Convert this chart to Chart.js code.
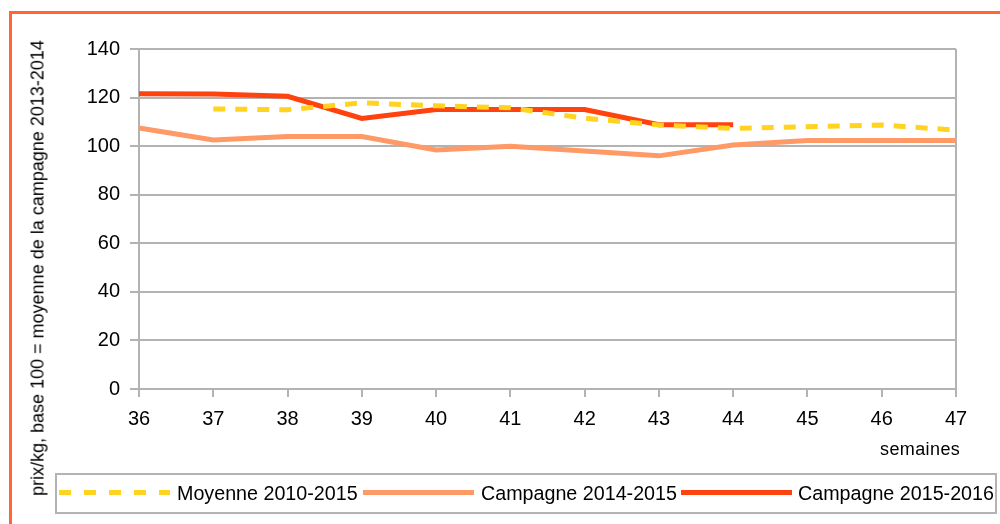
<!DOCTYPE html>
<html>
<head>
<meta charset="utf-8">
<script src="https://cdn.jsdelivr.net/npm/chart.js@4.4.1/dist/chart.umd.min.js"></script>
<style>
  html, body { margin:0; padding:0; background:#fff; }
  #wrap { position:relative; width:1000px; height:524px; overflow:hidden; font-family:"Liberation Sans", Arial, sans-serif; }
  #frame { position:absolute; left:9px; top:11px; width:1000px; height:600px; border:3px solid #FF6633; box-sizing:border-box; }
  canvas { position:absolute; left:0; top:0; }
  #ytitle { position:absolute; left:38px; top:268px; transform:translate(-50%,-50%) rotate(-90deg); white-space:nowrap; font-size:18px; color:#000; }
  #xtitle { position:absolute; left:880px; top:439px; font-size:18px; color:#000; letter-spacing:0.4px; }
  #legend { position:absolute; left:55px; top:473px; width:942px; height:41px; border:2px solid #b3b3b3; box-sizing:border-box; }
  .sw { position:absolute; top:15px; width:111px; height:5px; }
  .lt { position:absolute; top:7px; font-size:19.7px; white-space:nowrap; color:#000; }
</style>
</head>
<body>
<div id="wrap">
  <div id="frame"></div>
  <canvas id="c" width="1000" height="524"></canvas>
  <div id="ytitle">prix/kg, base 100 = moyenne de la campagne 2013-2014</div>
  <div id="xtitle">semaines</div>
  <div id="legend"></div>
</div>
<script>
const weeks = ['36','37','38','39','40','41','42','43','44','45','46','47'];
const seriesNames = ['Moyenne 2010-2015', 'Campagne 2014-2015', 'Campagne 2015-2016'];
const moyenne2010_2015 = [null, 115.3, 115, 117.8, 116.6, 115.8, 111.5, 108.7, 107.3, 108, 108.7, 106.6];
const campagne2014_2015 = [107.5, 102.5, 104, 104, 98.4, 100, 98, 96, 100.5, 102.3, 102.3, 102.3];
const campagne2015_2016 = [121.6, 121.5, 120.5, 111.4, 115.1, 115.1, 115.1, 108.8, 108.8, null, null, null];
const yTicks = [0, 20, 40, 60, 80, 100, 120, 140];

const colors = ['#FFD320', '#FF9966', '#FF420E'];

// HTML legend
const legend = document.getElementById('legend');
const pos = [[2, 120], [306, 424], [624, 741]];
seriesNames.forEach((n, i) => {
  const sw = document.createElement('div');
  sw.className = 'sw';
  sw.style.left = pos[i][0] + 'px';
  sw.style.background = i === 0
    ? 'repeating-linear-gradient(90deg,' + colors[0] + ' 0 12px, transparent 12px 25px)'
    : colors[i];
  legend.appendChild(sw);
  const t = document.createElement('div');
  t.className = 'lt';
  t.style.left = pos[i][1] + 'px';
  t.textContent = n;
  legend.appendChild(t);
});

const tickFont = { family: '"Liberation Sans", Arial, sans-serif', size: 20 };

new Chart(document.getElementById('c'), {
  type: 'line',
  data: {
    labels: weeks,
    datasets: [
      { label: seriesNames[0], data: moyenne2010_2015, borderColor: colors[0], borderWidth: 5, borderDash: [12, 10], pointRadius: 0, tension: 0, fill: false },
      { label: seriesNames[1], data: campagne2014_2015, borderColor: colors[1], borderWidth: 5, pointRadius: 0, tension: 0, fill: false },
      { label: seriesNames[2], data: campagne2015_2016, borderColor: colors[2], borderWidth: 5, pointRadius: 0, tension: 0, fill: false }
    ]
  },
  options: {
    responsive: false,
    animation: false,
    layout: { padding: { left: 0, top: 49, right: 44, bottom: 0 } },
    plugins: { legend: { display: false }, tooltip: { enabled: false } },
    scales: {
      x: {
        type: 'category',
        offset: false,
        border: { display: true, color: '#b3b3b3', width: 2 },
        grid: {
          offset: false,
          color: (ctx) => ctx.index === weeks.length - 1 ? '#b3b3b3' : 'rgba(0,0,0,0)',
          lineWidth: 2,
          tickColor: '#b3b3b3',
          tickLength: 8,
          drawTicks: true
        },
        ticks: { color: '#000', font: tickFont, padding: 10, maxRotation: 0, autoSkip: false },
        afterFit: (s) => { s.height = 524 - 389; }
      },
      y: {
        min: 0, max: 140,
        afterBuildTicks: (s) => { s.ticks = yTicks.map(v => ({ value: v })); },
        border: { display: true, color: '#b3b3b3', width: 2 },
        grid: { color: '#b3b3b3', lineWidth: 2, tickColor: '#b3b3b3', tickLength: 9 },
        ticks: { color: '#000', font: tickFont, padding: 10 },
        afterFit: (s) => { s.width = 139; }
      }
    }
  }
});
</script>
</body>
</html>
